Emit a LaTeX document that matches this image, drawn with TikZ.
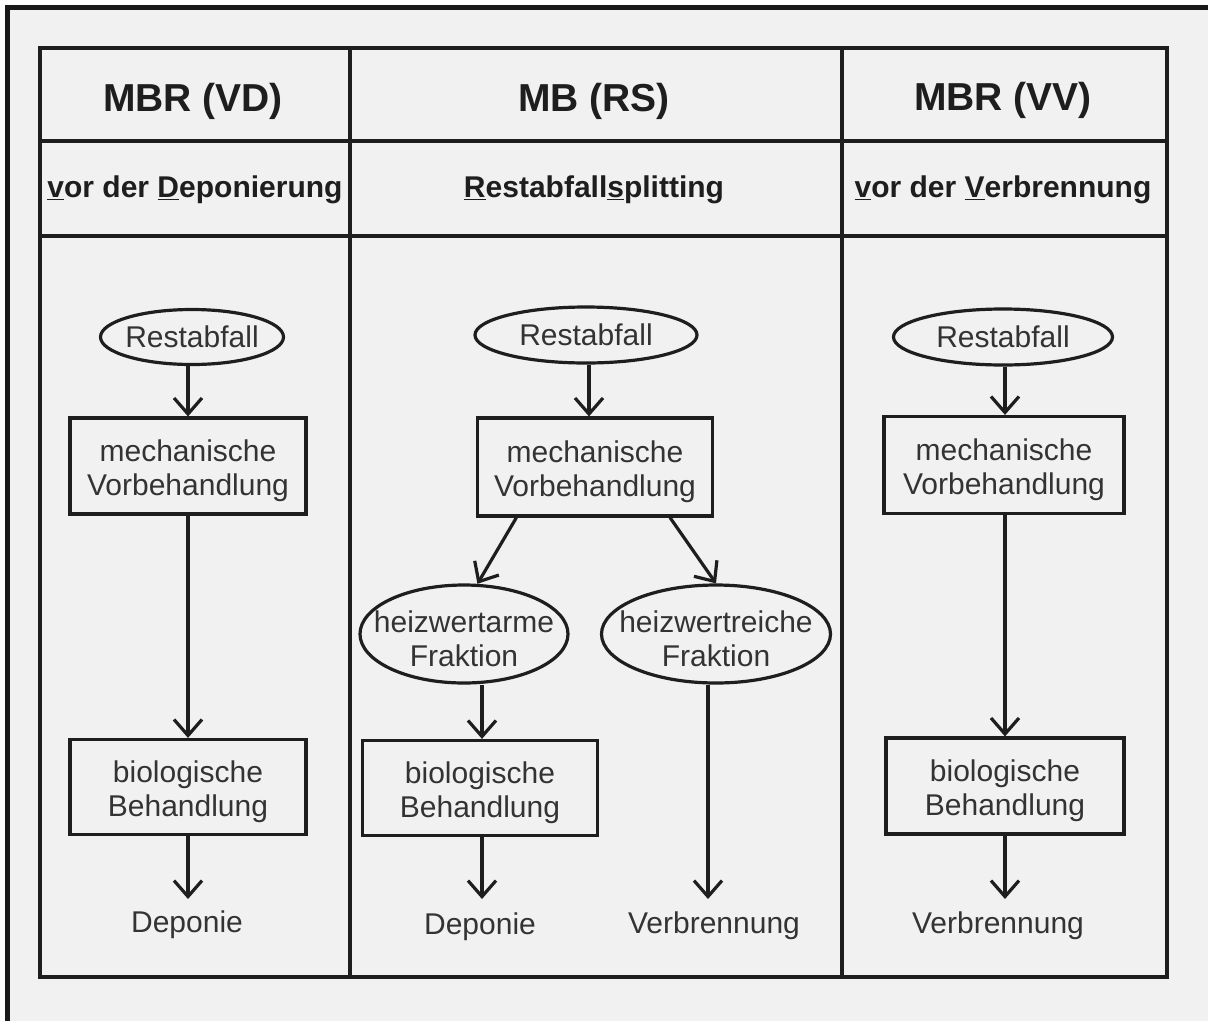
\documentclass[tikz,border=0pt]{standalone}
\usepackage{fontspec}
\setmainfont{Liberation Sans}
\usetikzlibrary{shapes.geometric,arrows.meta,calc}
\definecolor{paper}{HTML}{F1F1F1}
\definecolor{ink}{HTML}{1E1E1E}
\definecolor{txt}{HTML}{333333}
\newcommand{\mytopstrut}{\rule{0pt}{31pt}}
\tikzset{
  tbl/.style={draw=ink, line width=3.6pt},
  ovalnode/.style={ellipse, draw=ink, line width=3.2pt, inner xsep=-40pt, inner ysep=-10pt, text=txt, align=center,
    font=\fontsize{30}{34}\selectfont},
  boxnode/.style={rectangle, draw=ink, line width=3.2pt, inner sep=0pt, text=txt, align=center,
    font=\fontsize{30}{34}\selectfont},
  endlabel/.style={text=txt, font=\fontsize{30}{34}\selectfont, inner sep=0pt},
  headtitle/.style={text=ink, font=\fontsize{39}{44}\selectfont\bfseries, inner sep=0pt},
  headsub/.style={text=ink, font=\fontsize{30}{34}\selectfont\bfseries, inner sep=0pt},
  flow/.style={draw=ink, line width=3.2pt, -{Straight Barb[length=16pt,width=28pt,line width=3.2pt]}}
}
\begin{document}
\begin{tikzpicture}[x=1pt,y=-1pt]
\useasboundingbox (0,0) rectangle (1208,1021);
\fill[white] (0,0) rectangle (1208,1021);
\fill[black!90] (5,5) rectangle (1208,1021);
\fill[paper] (10,10) rectangle (1208,1021);

% table
\draw[tbl] (40,48) rectangle (1167,977);
\draw[tbl] (350,48) -- (350,977);
\draw[tbl] (842,48) -- (842,977);
\draw[tbl] (40,141) -- (1167,141);
\draw[tbl] (40,236) -- (1167,236);

% headers
\node[headtitle] (h1) at (193,101) {MBR (VD)};
\node[headtitle] (h2) at (594,101) {MB (RS)};
\node[headtitle] (h3) at (1003,100) {MBR (VV)};
\node[headsub] (s1) at (195,190) {\underline{v}or der \underline{D}eponierung};
\node[headsub] (s2) at (594,190) {\underline{R}estabfall\underline{s}plitting};
\node[headsub] (s3) at (1003,190) {\underline{v}or der \underline{V}erbrennung};

% left column
\node[ovalnode, minimum width=183pt, minimum height=55pt] (r1) at (192,337) {Restabfall};
\node[boxnode, minimum width=236pt, minimum height=96pt] (m1) at (188,466) {\mytopstrut mechanische\\Vorbehandlung};
\node[boxnode, minimum width=236pt, minimum height=95pt] (b1) at (188,787) {\mytopstrut biologische\\Behandlung};
\node[endlabel] (d1) at (187,925) {Deponie};
\coordinate (e1) at (188,899);
\draw[flow] (r1.south -| 188,0) -- (m1.north);
\draw[flow] (m1.south) -- (b1.north);
\draw[flow] (b1.south) -- (e1);

% middle column
\node[ovalnode, minimum width=222pt, minimum height=56pt] (r2) at (586,335) {Restabfall};
\node[boxnode, minimum width=235pt, minimum height=98pt] (m2) at (595,467) {\mytopstrut mechanische\\Vorbehandlung};
\node[ovalnode, minimum width=208pt, minimum height=98pt] (fa) at (464,634) {\mytopstrut heizwertarme\\Fraktion};
\node[ovalnode, minimum width=229pt, minimum height=98pt] (fr) at (716,634) {\mytopstrut heizwertreiche\\Fraktion};
\node[boxnode, minimum width=235pt, minimum height=95pt] (b2) at (480,788) {\mytopstrut biologische\\Behandlung};
\node[endlabel] (d2) at (480,927) {Deponie};
\node[endlabel] (v2) at (714,926) {Verbrennung};
\coordinate (e2) at (482,899);
\coordinate (e3) at (708,899);
\draw[flow] (r2.south -| 589,0) -- (m2.north -| 589,0);
\draw[flow] ($(m2.south west)!0.17!(m2.south east)$) -- (fa.75);
\draw[flow] ($(m2.south west)!0.815!(m2.south east)$) -- (fr.north);
\draw[flow] (fa.south -| 482,0) -- (b2.north -| 482,0);
\draw[flow] (b2.south -| 482,0) -- (e2);
\draw[flow] (fr.south -| 708,0) -- (e3);

% right column
\node[ovalnode, minimum width=219pt, minimum height=56pt] (r3) at (1003,337) {Restabfall};
\node[boxnode, minimum width=240pt, minimum height=97pt] (m3) at (1004,465) {\mytopstrut mechanische\\Vorbehandlung};
\node[boxnode, minimum width=238pt, minimum height=96pt] (b3) at (1005,786) {\mytopstrut biologische\\Behandlung};
\node[endlabel] (v3) at (998,926) {Verbrennung};
\coordinate (e4) at (1005,899);
\draw[flow] (r3.south -| 1005,0) -- (m3.north -| 1005,0);
\draw[flow] (m3.south -| 1005,0) -- (b3.north -| 1005,0);
\draw[flow] (b3.south -| 1005,0) -- (e4);
\end{tikzpicture}
\end{document}
